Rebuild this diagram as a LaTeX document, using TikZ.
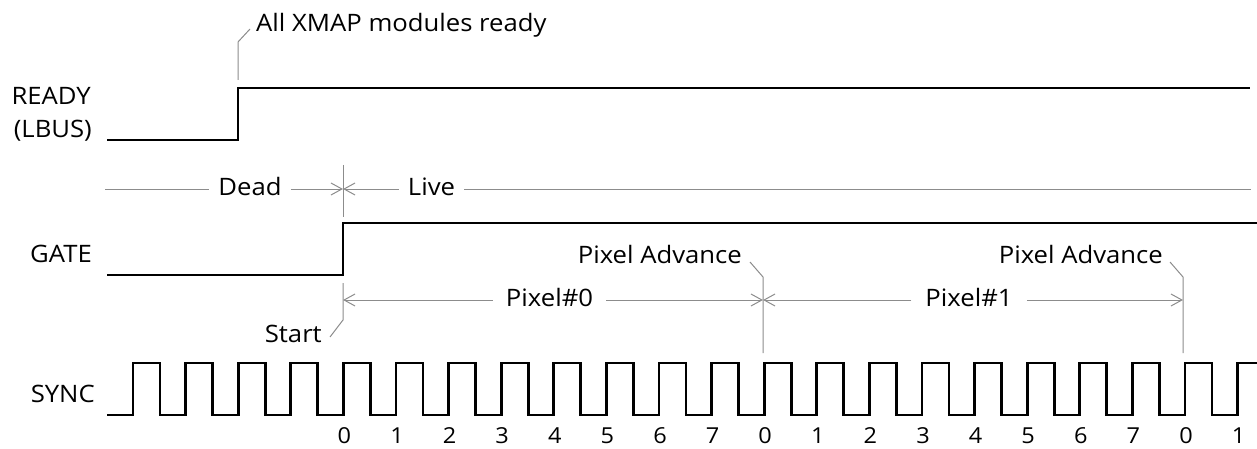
\documentclass[tikz,border=0pt]{standalone}
\usepackage{fontspec}
\setmainfont{Open Sans}[FakeStretch=1.07]
\usetikzlibrary{arrows.meta}
\begin{document}
\begin{tikzpicture}[x=1pt,y=-1pt,
  sig/.style={line width=2.7pt, black, line join=miter, line cap=butt},
  anno/.style={line width=1pt, black!45},
  tipend/.style={-{Straight Barb[length=11pt,width=12pt,line width=1pt]}},
  lbl/.style={font=\fontsize{24}{26}\selectfont, inner sep=0pt, text=black},
  mid/.style={lbl, inner xsep=9pt},
  num/.style={font=\fontsize{22}{24}\selectfont, inner sep=0pt, anchor=base}
]
\useasboundingbox (0,0) rectangle (1257,449);

% ---- signal names
\node[lbl, anchor=base east] (ready) at (91,105) {READY};
\node[lbl, anchor=base east] (lbus) at (92,138) {(LBUS)};
\node[lbl, anchor=base east] (gate) at (92,262) {GATE};
\node[lbl, anchor=base east] (sync) at (95,402) {SYNC};

% ---- READY
\coordinate (rdyedge) at (238,88);
\draw[sig] (107,140) -- (238,140) -- (rdyedge) -- (1250,88);
\node[lbl, anchor=base west] (xmap) at (256,32) {All XMAP modules ready};
\coordinate (xmapa) at (238,80);
\coordinate (xmapb) at (238,42);
\coordinate (xmapc) at (250,29);
\draw[anno] (xmapa) -- (xmapb) -- (xmapc);

% ---- Dead / Live
\coordinate (dlstart) at (105,189);
\coordinate (gedge) at (343,189);
\coordinate (dlend) at (1251,189);
\node[mid, anchor=base] (dead) at (250,196) {Dead};
\node[mid, anchor=base] (live) at (431.5,196) {Live};
\draw[anno] (dlstart) -- (dead.west |- dlstart);
\draw[anno, tipend] (dead.east |- dlstart) -- (gedge);
\draw[anno, tipend] (live.west |- dlstart) -- (gedge);
\draw[anno] (live.east |- dlstart) -- (dlend);
\draw[anno] (343,165) -- (343,217);

% ---- GATE
\draw[sig] (107,275) -- (343,275) -- (343,223) -- (1257,223);

% ---- Pixel row
\coordinate (pstart) at (343,300);
\coordinate (padv0) at (763,300);
\coordinate (padv1) at (1183,300);
\node[lbl, inner xsep=13pt, anchor=base] (pix0) at (549.5,306) {Pixel\#0};
\node[lbl, inner xsep=14pt, anchor=base] (pix1) at (969,306) {Pixel\#1};
\draw[anno, tipend] (pix0.west |- pstart) -- (pstart);
\draw[anno, tipend] (pix0.east |- pstart) -- (padv0);
\draw[anno, tipend] (pix1.west |- pstart) -- (padv0);
\draw[anno, tipend] (pix1.east |- pstart) -- (padv1);

% Start leader
\node[lbl, anchor=base east] (start) at (322,342) {Start};
\draw[anno] (343,283) -- (343,320) -- (330,337);

% Pixel Advance leaders
\node[lbl, anchor=base east] (pa0) at (742,263) {Pixel Advance};
\node[lbl, anchor=base east] (pa1) at (1163,263) {Pixel Advance};
\draw[anno] (750,262) -- (763,277) -- (763,353);
\draw[anno] (1170,262) -- (1183,277) -- (1183,353);

% ---- SYNC
\draw[sig] (107,415)
  foreach \k in {0,...,20} {
    -- ({133+52.6*\k},415) -- ({133+52.6*\k},363)
    -- ({160+52.6*\k},363) -- ({160+52.6*\k},415)
  }
  -- (1237.6,415) -- (1237.6,363) -- (1257,363);

\foreach \d [count=\i from 4] in {0,1,2,3,4,5,6,7,0,1,2,3,4,5,6,7,0,1} {
  \node[num] (n\i) at ({134+52.6*\i},443) {\d};
}
\end{tikzpicture}
\end{document}
